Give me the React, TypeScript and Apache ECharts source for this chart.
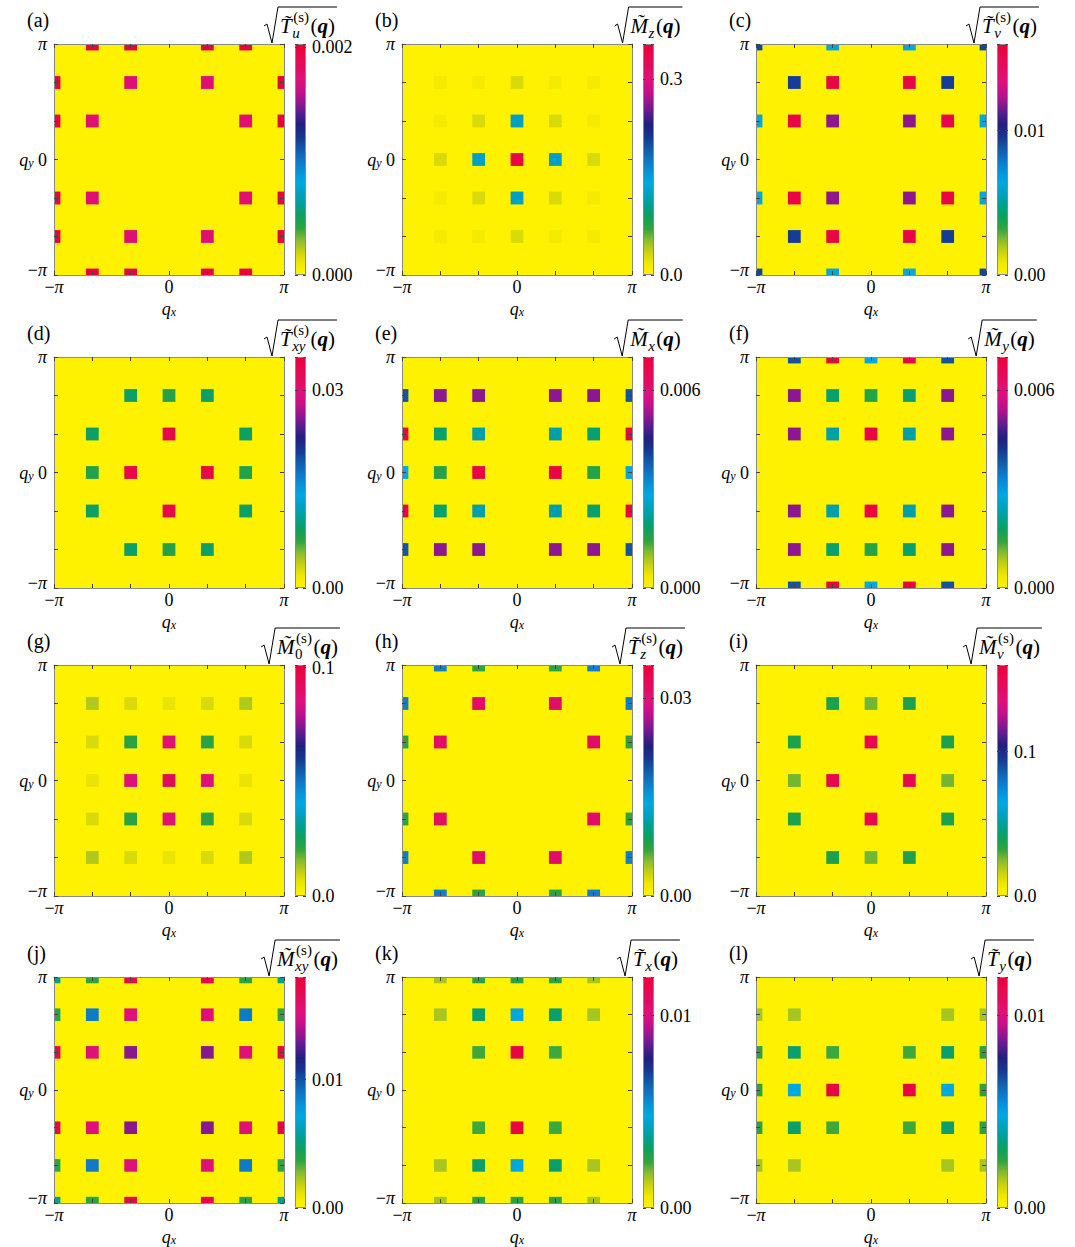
import React, { useEffect, useRef } from 'react';
import * as echarts from 'echarts';

const SERIF = "'Liberation Serif', 'Times New Roman', serif";

// colour scale, bottom (0) to top (1)
const COLORMAP = ['#fff200', '#f0e800', '#c8d010', '#88bc30', '#30a440', '#10a058', '#00a090', '#00a0c0', '#00a8e0', '#0890d8', '#1074c4', '#1058a8', '#183490', '#20207e', '#581c90', '#961690', '#c81088', '#e0107a', '#e00c62', '#e8084c', '#e8003a'];

// q in units of pi/3 : [qx, qy, value]
const A_DATA = [
  [-2, 3, 0.002], [-1, 3, 0.002], [1, 3, 0.002], [2, 3, 0.002],
  [-3, 2, 0.002], [-1, 2, 0.00175], [1, 2, 0.00175], [3, 2, 0.002],
  [-3, 1, 0.002], [-2, 1, 0.00175], [2, 1, 0.00175], [3, 1, 0.002],
  [-3, -1, 0.002], [-2, -1, 0.00175], [2, -1, 0.00175], [3, -1, 0.002],
  [-3, -2, 0.002], [-1, -2, 0.00175], [1, -2, 0.00175], [3, -2, 0.002],
  [-2, -3, 0.002], [-1, -3, 0.002], [1, -3, 0.002], [2, -3, 0.002],
];
const B_DATA = [
  [-2, 2, 0.013], [-1, 2, 0.013], [0, 2, 0.028], [1, 2, 0.013], [2, 2, 0.013],
  [-2, 1, 0.013], [-1, 1, 0.028], [0, 1, 0.125], [1, 1, 0.028], [2, 1, 0.013],
  [-2, 0, 0.028], [-1, 0, 0.125], [0, 0, 0.34], [1, 0, 0.125], [2, 0, 0.028],
  [-2, -1, 0.013], [-1, -1, 0.028], [0, -1, 0.125], [1, -1, 0.028], [2, -1, 0.013],
  [-2, -2, 0.013], [-1, -2, 0.013], [0, -2, 0.028], [1, -2, 0.013], [2, -2, 0.013],
];
const C_DATA = [
  [-3, 3, 0.0092], [-1, 3, 0.0063], [1, 3, 0.0063], [3, 3, 0.0092],
  [-2, 2, 0.0094], [-1, 2, 0.0154], [1, 2, 0.0154], [2, 2, 0.0094],
  [-3, 1, 0.0063], [-2, 1, 0.0154], [-1, 1, 0.0119], [1, 1, 0.0119], [2, 1, 0.0154], [3, 1, 0.0063],
  [-3, -1, 0.0063], [-2, -1, 0.0154], [-1, -1, 0.0119], [1, -1, 0.0119], [2, -1, 0.0154], [3, -1, 0.0063],
  [-2, -2, 0.0094], [-1, -2, 0.0154], [1, -2, 0.0154], [2, -2, 0.0094],
  [-3, -3, 0.0092], [-1, -3, 0.0063], [1, -3, 0.0063], [3, -3, 0.0092],
];
const D_DATA = [
  [-1, 2, 0.0092], [0, 2, 0.0077], [1, 2, 0.0092],
  [-2, 1, 0.0092], [0, 1, 0.0335], [2, 1, 0.0092],
  [-2, 0, 0.0077], [-1, 0, 0.0335], [1, 0, 0.0335], [2, 0, 0.0077],
  [-2, -1, 0.0092], [0, -1, 0.0335], [2, -1, 0.0092],
  [-1, -2, 0.0092], [0, -2, 0.0077], [1, -2, 0.0092],
];
const E_DATA = [
  [-3, 2, 0.0039], [-2, 2, 0.0052], [-1, 2, 0.0052], [1, 2, 0.0052], [2, 2, 0.0052], [3, 2, 0.0039],
  [-3, 1, 0.0068], [-2, 1, 0.0019], [-1, 1, 0.0023], [1, 1, 0.0023], [2, 1, 0.0019], [3, 1, 0.0068],
  [-3, 0, 0.0028], [-2, 0, 0.0015], [-1, 0, 0.0068], [1, 0, 0.0068], [2, 0, 0.0015], [3, 0, 0.0028],
  [-3, -1, 0.0068], [-2, -1, 0.0019], [-1, -1, 0.0023], [1, -1, 0.0023], [2, -1, 0.0019], [3, -1, 0.0068],
  [-3, -2, 0.0039], [-2, -2, 0.0052], [-1, -2, 0.0052], [1, -2, 0.0052], [2, -2, 0.0052], [3, -2, 0.0039],
];
const F_DATA = [
  [-2, 3, 0.0039], [-1, 3, 0.0068], [0, 3, 0.0028], [1, 3, 0.0068], [2, 3, 0.0039],
  [-2, 2, 0.0052], [-1, 2, 0.0019], [0, 2, 0.0015], [1, 2, 0.0019], [2, 2, 0.0052],
  [-2, 1, 0.0052], [-1, 1, 0.0023], [0, 1, 0.0068], [1, 1, 0.0023], [2, 1, 0.0052],
  [-2, -1, 0.0052], [-1, -1, 0.0023], [0, -1, 0.0068], [1, -1, 0.0023], [2, -1, 0.0052],
  [-2, -2, 0.0052], [-1, -2, 0.0019], [0, -2, 0.0015], [1, -2, 0.0019], [2, -2, 0.0052],
  [-2, -3, 0.0039], [-1, -3, 0.0068], [0, -3, 0.0028], [1, -3, 0.0068], [2, -3, 0.0039],
];
const G_DATA = [
  [-2, 2, 0.012], [-1, 2, 0.008], [0, 2, 0.006], [1, 2, 0.008], [2, 2, 0.012],
  [-2, 1, 0.008], [-1, 1, 0.021], [0, 1, 0.086], [1, 1, 0.021], [2, 1, 0.008],
  [-2, 0, 0.006], [-1, 0, 0.086], [0, 0, 0.093], [1, 0, 0.086], [2, 0, 0.006],
  [-2, -1, 0.008], [-1, -1, 0.021], [0, -1, 0.086], [1, -1, 0.021], [2, -1, 0.008],
  [-2, -2, 0.012], [-1, -2, 0.008], [0, -2, 0.006], [1, -2, 0.008], [2, -2, 0.012],
];
const H_DATA = [
  [-2, 3, 0.0168], [-1, 3, 0.0072], [1, 3, 0.0072], [2, 3, 0.0168],
  [-3, 2, 0.0168], [-1, 2, 0.031], [1, 2, 0.031], [3, 2, 0.0168],
  [-3, 1, 0.0072], [-2, 1, 0.031], [2, 1, 0.031], [3, 1, 0.0072],
  [-3, -1, 0.0072], [-2, -1, 0.031], [2, -1, 0.031], [3, -1, 0.0072],
  [-3, -2, 0.0168], [-1, -2, 0.031], [1, -2, 0.031], [3, -2, 0.0168],
  [-2, -3, 0.0168], [-1, -3, 0.0072], [1, -3, 0.0072], [2, -3, 0.0168],
];
const I_DATA = [
  [-1, 2, 0.037], [0, 2, 0.026], [1, 2, 0.037],
  [-2, 1, 0.037], [0, 1, 0.15], [2, 1, 0.037],
  [-2, 0, 0.026], [-1, 0, 0.15], [1, 0, 0.15], [2, 0, 0.026],
  [-2, -1, 0.037], [0, -1, 0.15], [2, -1, 0.037],
  [-1, -2, 0.037], [0, -2, 0.026], [1, -2, 0.037],
];
const J_DATA = [
  [-3, 3, 0.0054], [-2, 3, 0.0037], [-1, 3, 0.0172], [1, 3, 0.0172], [2, 3, 0.0037], [3, 3, 0.0054],
  [-3, 2, 0.0037], [-2, 2, 0.0088], [-1, 2, 0.0153], [1, 2, 0.0153], [2, 2, 0.0088], [3, 2, 0.0037],
  [-3, 1, 0.0172], [-2, 1, 0.0153], [-1, 1, 0.0133], [1, 1, 0.0133], [2, 1, 0.0153], [3, 1, 0.0172],
  [-3, -1, 0.0172], [-2, -1, 0.0153], [-1, -1, 0.0133], [1, -1, 0.0133], [2, -1, 0.0153], [3, -1, 0.0172],
  [-3, -2, 0.0037], [-2, -2, 0.0088], [-1, -2, 0.0153], [1, -2, 0.0153], [2, -2, 0.0088], [3, -2, 0.0037],
  [-3, -3, 0.0054], [-2, -3, 0.0037], [-1, -3, 0.0172], [1, -3, 0.0172], [2, -3, 0.0037], [3, -3, 0.0054],
];
const K_DATA = [
  [-2, 3, 0.0015], [-1, 3, 0.0025], [0, 3, 0.0025], [1, 3, 0.0025], [2, 3, 0.0015],
  [-2, 2, 0.0015], [-1, 2, 0.0032], [0, 2, 0.0048], [1, 2, 0.0032], [2, 2, 0.0015],
  [-1, 1, 0.0023], [0, 1, 0.0116], [1, 1, 0.0023],
  [-1, -1, 0.0023], [0, -1, 0.0116], [1, -1, 0.0023],
  [-2, -2, 0.0015], [-1, -2, 0.0032], [0, -2, 0.0048], [1, -2, 0.0032], [2, -2, 0.0015],
  [-2, -3, 0.0015], [-1, -3, 0.0025], [0, -3, 0.0025], [1, -3, 0.0025], [2, -3, 0.0015],
];
const L_DATA = [
  [-3, 2, 0.0015], [-2, 2, 0.0015], [2, 2, 0.0015], [3, 2, 0.0015],
  [-3, 1, 0.0025], [-2, 1, 0.0032], [-1, 1, 0.0023], [1, 1, 0.0023], [2, 1, 0.0032], [3, 1, 0.0025],
  [-3, 0, 0.0025], [-2, 0, 0.0048], [-1, 0, 0.0116], [1, 0, 0.0116], [2, 0, 0.0048], [3, 0, 0.0025],
  [-3, -1, 0.0025], [-2, -1, 0.0032], [-1, -1, 0.0023], [1, -1, 0.0023], [2, -1, 0.0032], [3, -1, 0.0025],
  [-3, -2, 0.0015], [-2, -2, 0.0015], [2, -2, 0.0015], [3, -2, 0.0015],
];

const PANEL_DATA = [A_DATA, B_DATA, C_DATA, D_DATA, E_DATA, F_DATA, G_DATA, H_DATA, I_DATA, J_DATA, K_DATA, L_DATA];
const PANEL_LABELS = ['(a)', '(b)', '(c)', '(d)', '(e)', '(f)', '(g)', '(h)', '(i)', '(j)', '(k)', '(l)'];
const TITLE_BASE = ['T', 'M', 'T', 'T', 'M', 'M', 'M', 'T', 'M', 'M', 'T', 'T'];
const TITLE_SUB = ['u', 'z', 'v', 'xy', 'x', 'y', '0', 'z', 'v', 'xy', 'x', 'y'];
const TITLE_SUP = ['(s)', '', '(s)', '(s)', '', '', '(s)', '(s)', '(s)', '(s)', '', ''];
const CB_MAX = [0.00203, 0.354, 0.016, 0.035, 0.007, 0.007, 0.1012, 0.035, 0.16, 0.018, 0.012, 0.012];
const CB_TICK = [0.002, 0.3, 0.01, 0.03, 0.006, 0.006, 0.1, 0.03, 0.1, 0.01, 0.01, 0.01];
const CB_DEC = [3, 1, 2, 2, 3, 3, 1, 2, 1, 2, 2, 2];

// layout
const COL_LEFT = [54, 402, 756];
const ROW_TOP = [44, 357, 665, 977];
const PLOT_W = 230;
const PLOT_H = 231;
const CB_OFFSET = 241;
const CB_W = 11;
const HALF_CELL = 1 / 6; // half of pi/9 in units of pi/3

const AXIS_COLOR = '#8a8a8a';
const TICK_COLOR = '#444';

const AX_RICH: any = {
  r: { fontFamily: SERIF, fontSize: 18, color: '#000' },
  i: { fontFamily: SERIF, fontSize: 18, fontStyle: 'italic', color: '#000' },
  ru: { fontFamily: SERIF, fontSize: 18, color: '#000', padding: [0, 0, 10, 0] },
  iu: { fontFamily: SERIF, fontSize: 18, fontStyle: 'italic', color: '#000', padding: [0, 0, 10, 0] },
  q: { fontFamily: SERIF, fontSize: 18, fontStyle: 'italic', color: '#000' },
  s: { fontFamily: SERIF, fontSize: 12, fontStyle: 'italic', color: '#000', verticalAlign: 'bottom', lineHeight: 12, padding: [9, 0, 0, 0] },
};

let measureCtx: CanvasRenderingContext2D | null = null;
function tw(text: string, font: string) {
  if (!measureCtx) measureCtx = document.createElement('canvas').getContext('2d');
  measureCtx!.font = font;
  return measureCtx!.measureText(text).width;
}

const BASE_FS = 21;
const SUB_FS = 15;
const CENTRAL = 0.3375;

function txt(x: number, baseline: number, text: string, fs: number, fontStyle = 'normal', fontWeight = 'normal', align = 'left') {
  return {
    type: 'text', x, y: baseline - CENTRAL * fs, silent: true,
    style: { text, fill: '#000', fontSize: fs, fontFamily: SERIF, fontStyle, fontWeight, textAlign: align, textVerticalAlign: 'middle' },
  };
}

function titleGraphics(p: number, cx: number, T: number) {
  const base = TITLE_BASE[p];
  const sub = TITLE_SUB[p];
  const sup = TITLE_SUP[p];
  const subItalic = sub !== '0';
  const fIt = (s: number) => `italic ${s}px ${SERIF}`;
  const fRo = (s: number) => `${s}px ${SERIF}`;
  const wBase = tw(base, fIt(BASE_FS));
  const wSub = tw(sub, subItalic ? fIt(SUB_FS) : fRo(SUB_FS));
  const wSup = sup ? tw(sup, fRo(SUB_FS)) : 0;
  const scriptX = wBase + 0.5;
  const wScript = Math.max(wSub, wSup + 1) + 1.5;
  const parenX = scriptX + wScript;
  const wL = tw('(', fRo(BASE_FS));
  const wQ = tw('q', `italic bold ${BASE_FS}px ${SERIF}`);
  const wR = tw(')', fRo(BASE_FS));
  const textW = parenX + wL + wQ + wR;
  const total = 16 + textW + 2;
  const x0 = cx - total / 2;
  const xs = x0 + 16;
  const els: any[] = [];
  els.push({
    type: 'polyline', silent: true,
    shape: { points: [[x0, T - 18], [x0 + 3, T - 20], [x0 + 8, T - 1], [x0 + 14, T - 37], [xs + textW + 2, T - 37]] },
    style: { stroke: '#000', lineWidth: 1, fill: 'none' },
  });
  els.push(txt(xs, T - 11, base + '\u0303', BASE_FS, 'italic'));
  els.push(txt(xs + scriptX, T - 6, sub, SUB_FS, subItalic ? 'italic' : 'normal'));
  if (sup) els.push(txt(xs + scriptX + 1, T - 22, sup, SUB_FS));
  els.push(txt(xs + parenX, T - 11, '(', BASE_FS));
  els.push(txt(xs + parenX + wL, T - 11, 'q', BASE_FS, 'italic', 'bold'));
  els.push(txt(xs + parenX + wL + wQ, T - 11, ')', BASE_FS));
  return els;
}

function renderCell(params: any, api: any) {
  const x = api.value(0);
  const y = api.value(1);
  const p0 = api.coord([x - HALF_CELL, y + HALF_CELL]);
  const p1 = api.coord([x + HALF_CELL, y - HALF_CELL]);
  const cs = params.coordSys;
  const rect = echarts.graphic.clipRectByRect(
    { x: p0[0], y: p0[1], width: p1[0] - p0[0], height: p1[1] - p0[1] },
    { x: cs.x, y: cs.y, width: cs.width, height: cs.height }
  );
  if (!rect) return null;
  return { type: 'rect', shape: rect, style: { fill: api.visual('color') } };
}

function buildOption() {
  const grid: any[] = [];
  const xAxis: any[] = [];
  const yAxis: any[] = [];
  const series: any[] = [];
  const visualMap: any[] = [];
  const graphic: any[] = [];
  const gradientStops = COLORMAP.map((c, i) => ({ offset: i / (COLORMAP.length - 1), color: c }));

  PANEL_DATA.forEach((data, p) => {
    const r = Math.floor(p / 3);
    const c = p % 3;
    const left = COL_LEFT[c];
    const top = ROW_TOP[r];
    const gP = grid.length;
    grid.push({ left, top, width: PLOT_W, height: PLOT_H, show: true, backgroundColor: COLORMAP[0], borderWidth: 0 });
    const gC = grid.length;
    grid.push({ left: left + CB_OFFSET, top, width: CB_W, height: PLOT_H, show: false });

    const common = {
      type: 'value', gridIndex: gP, min: -3, max: 3, interval: 1, z: 5,
      axisLine: { show: true, onZero: false, lineStyle: { color: AXIS_COLOR, width: 1 } },
      axisTick: { show: true, inside: true, length: 4, lineStyle: { color: TICK_COLOR, width: 1 } },
      splitLine: { show: false },
    };
    const xB = xAxis.length;
    xAxis.push({
      ...common, position: 'bottom',
      axisLabel: {
        margin: 3, rich: AX_RICH,
        formatter: (v: number) => (v === -3 ? '{r|−}{i|π}' : v === 0 ? '{r|0}' : v === 3 ? '{i|π}' : ''),
      },
      name: '{q|q}{s|x}', nameLocation: 'middle', nameGap: 14,
      nameTextStyle: { rich: AX_RICH },
    });
    xAxis.push({ ...common, position: 'top', axisLabel: { show: false } });
    const xC = xAxis.length;
    xAxis.push({ type: 'category', gridIndex: gC, data: ['bar'], show: false });

    const yL = yAxis.length;
    yAxis.push({
      ...common, position: 'left',
      axisLabel: {
        margin: 7, rich: AX_RICH,
        formatter: (v: number) => (v === -3 ? '{ru|−}{iu|π}' : v === 0 ? '{q|q}{s|y}{r| 0}' : v === 3 ? '{i|π}' : ''),
      },
    });
    yAxis.push({ ...common, position: 'right', axisLabel: { show: false } });
    const yC = yAxis.length;
    const tick = CB_TICK[p];
    const dec = CB_DEC[p];
    yAxis.push({
      type: 'value', gridIndex: gC, min: 0, max: CB_MAX[p], interval: tick, position: 'right', z: 5,
      axisLine: { show: false },
      axisTick: { show: true, inside: true, length: 3, lineStyle: { color: TICK_COLOR } },
      splitLine: { show: false },
      axisLabel: {
        margin: 6, color: '#000', fontSize: 18, fontFamily: SERIF,
        formatter: (v: number) => (Math.abs(v) < 1e-12 || Math.abs(v - tick) < tick * 1e-6 ? v.toFixed(dec) : ''),
      },
    });
    yAxis.push({
      type: 'value', gridIndex: gC, min: 0, max: CB_MAX[p], interval: tick, position: 'left', z: 5,
      axisLine: { show: false },
      axisTick: { show: true, inside: true, length: 3, lineStyle: { color: TICK_COLOR } },
      splitLine: { show: false },
      axisLabel: { show: false },
    });

    const sIdx = series.length;
    series.push({
      type: 'custom', xAxisIndex: xB, yAxisIndex: yL, data, renderItem: renderCell, z: 2, silent: true,
    });
    visualMap.push({
      type: 'continuous', show: false, seriesIndex: sIdx, dimension: 2, min: 0, max: CB_MAX[p],
      inRange: { color: COLORMAP },
    });
    series.push({
      type: 'bar', xAxisIndex: xC, yAxisIndex: yC, data: [CB_MAX[p]], barWidth: '100%', silent: true, z: 2,
      itemStyle: { color: new echarts.graphic.LinearGradient(0, 1, 0, 0, gradientStops), borderColor: AXIS_COLOR, borderWidth: 1 },
    });

    graphic.push({
      type: 'text', x: left - 27, y: top - 24, silent: true,
      style: { text: PANEL_LABELS[p], fill: '#000', fontSize: 20, fontFamily: SERIF, textAlign: 'left', textVerticalAlign: 'middle' },
    });
    graphic.push(...titleGraphics(p, left + CB_OFFSET + CB_W / 2, top));
  });

  return {
    animation: false,
    backgroundColor: '#fff',
    textStyle: { fontFamily: SERIF },
    grid, xAxis, yAxis, series, visualMap, graphic,
  };
}

export default function App() {
  const ref = useRef<HTMLDivElement>(null);
  useEffect(() => {
    const chart = echarts.init(ref.current!, undefined, { renderer: 'svg' });
    chart.setOption(buildOption() as any);
    return () => chart.dispose();
  }, []);
  return (
    <div
      ref={ref}
      style={{ position: 'absolute', left: 0, top: 0, width: 1075, height: 1247, background: '#fff' }}
    />
  );
}
